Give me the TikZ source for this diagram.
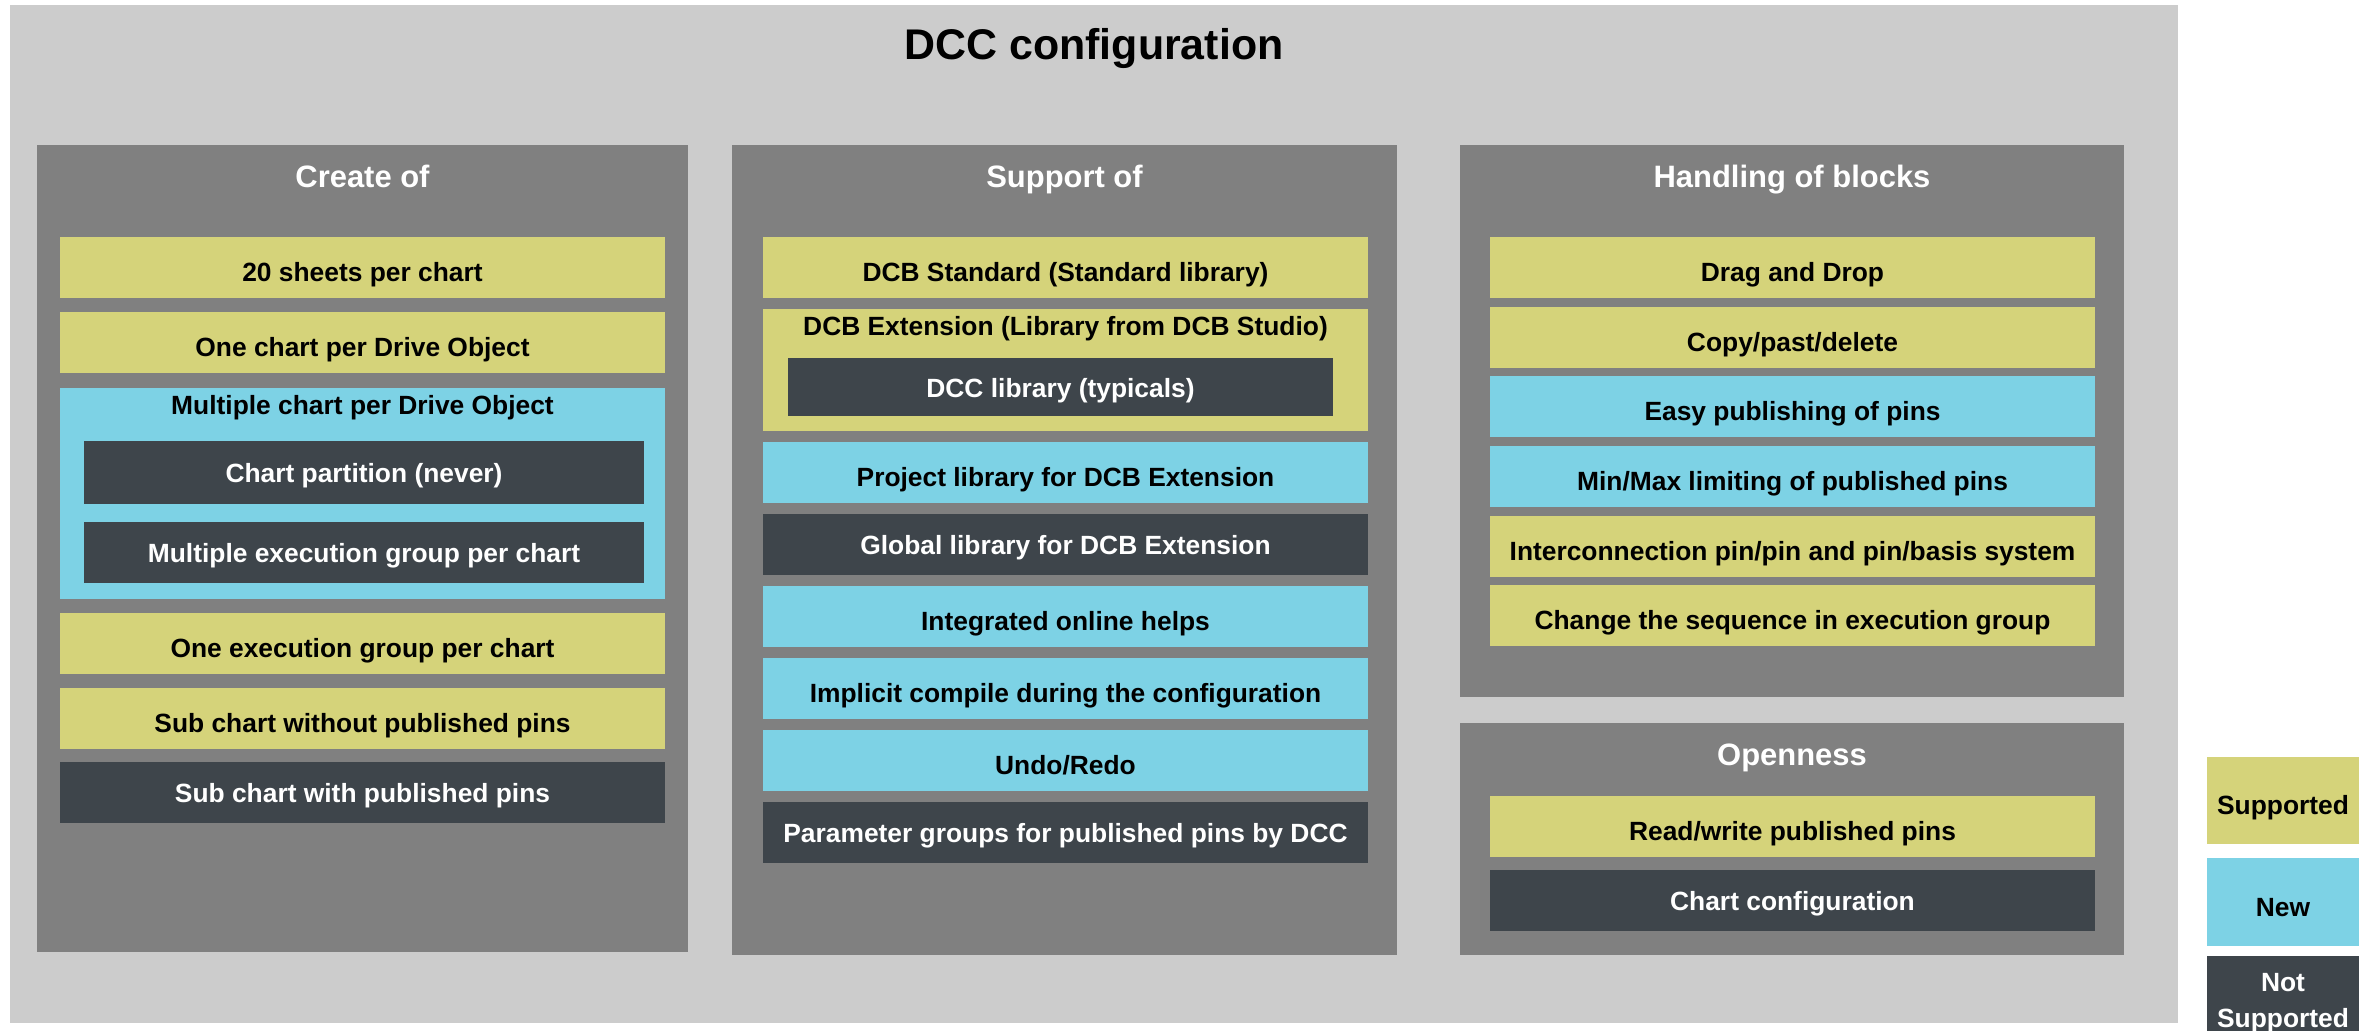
\documentclass[tikz,border=0pt]{standalone}
\usepackage{fontspec}
\setmainfont{Liberation Sans}
\usetikzlibrary{positioning}
\tikzstyle{sheet} = [x = .01cm, y = -.01cm]
\definecolor{outerColor}{RGB}{204,204,204}
\definecolor{panelColor}{RGB}{128,128,128}
\definecolor{supportedColor}{RGB}{213,211,122}
\definecolor{newColor}{RGB}{125,210,229}
\definecolor{notSupportedColor}{RGB}{62,69,75}
\tikzstyle{supportedFill} = [fill=supportedColor]
\tikzstyle{newFill} = [fill=newColor]
\tikzstyle{notSupportedFill} = [fill=notSupportedColor]
\tikzstyle{supportedText} = [text=black, yshift=-1.3pt]
\tikzstyle{newText} = [text=black, yshift=-1.3pt]
\tikzstyle{notSupportedText} = [text=white, yshift=-.2pt]
\tikzstyle{boxText} = [midway, inner sep=0pt, text height=5.4pt, text depth=0pt, font=\fontsize{7.5}{9}\selectfont\bfseries]
\tikzstyle{groupText} = [anchor=base, text=black, font=\fontsize{7.5}{9}\selectfont\bfseries]
\tikzstyle{panelText} = [anchor=base, text=white, font=\fontsize{8.8}{10}\selectfont\bfseries]
\tikzstyle{titleText} = [anchor=base, text=black, font=\fontsize{12.2}{14}\selectfont\bfseries]
\newcommand{\itemBox}[7]{\fill [#2Fill] (#3, #4) rectangle + (#5, #6) node [boxText, #2Text] (#1) {#7};}
\newcommand{\featureBox}[5]{\itemBox{#1}{#2}{#3}{#4}{605}{61}{#5}}
\newcommand{\groupBox}[5]{
  \fill [supportedFill, #2Fill] (#3, #4) rectangle + (605, #5);
}
\newcommand{\groupTitle}[4]{\node [groupText] (#1) at ({#2 + 302.5}, {#3 + 27}) {#4};}
\newcommand{\panelBox}[6]{
  \fill [panelColor] (#2, #3) rectangle (#4, #5);
  \node [panelText] (#1) at ({(#2 + #4) / 2}, {#3 + 43}) {#6};
}

\begin{document}
\begin{tikzpicture}[sheet]
      \useasboundingbox (0, 0) rectangle (2366, 1031);
      \fill [outerColor] (10, 5) rectangle (2178, 1023);
      \node [titleText] (title) at (1094, 60) {DCC configuration};

      \panelBox{createOf}{37}{145}{688}{952}{Create of}
      \featureBox{sheetsPerChart}{supported}{60}{237}{20 sheets per chart}
      \featureBox{oneChart}{supported}{60}{312}{One chart per Drive Object}
      \groupBox{multipleChart}{new}{60}{388}{211}
      \groupTitle{multipleChartTitle}{60}{388}{Multiple chart per Drive Object}
      \itemBox{chartPartition}{notSupported}{84}{441}{560}{63}{Chart partition (never)}
      \itemBox{multipleGroup}{notSupported}{84}{522}{560}{61}{Multiple execution group per chart}
      \featureBox{oneGroup}{supported}{60}{613}{One execution group per chart}
      \featureBox{subChartWithout}{supported}{60}{688}{Sub chart without published pins}
      \featureBox{subChartWith}{notSupported}{60}{762}{Sub chart with published pins}

      \panelBox{supportOf}{732}{145}{1397}{955}{Support of}
      \featureBox{dcbStandard}{supported}{763}{237}{DCB Standard (Standard library)}
      \groupBox{dcbExtension}{supported}{763}{309}{122}
      \groupTitle{dcbExtensionTitle}{763}{309}{DCB Extension (Library from DCB Studio)}
      \itemBox{dccLibrary}{notSupported}{788}{358}{545}{58}{DCC library (typicals)}
      \featureBox{projectLibrary}{new}{763}{442}{Project library for DCB Extension}
      \featureBox{globalLibrary}{notSupported}{763}{514}{Global library for DCB Extension}
      \featureBox{onlineHelps}{new}{763}{586}{Integrated online helps}
      \featureBox{implicitCompile}{new}{763}{658}{Implicit compile during the configuration}
      \featureBox{undoRedo}{new}{763}{730}{Undo/Redo}
      \featureBox{parameterGroups}{notSupported}{763}{802}{Parameter groups for published pins by DCC}

      \panelBox{handlingOfBlocks}{1460}{145}{2124}{697}{Handling of blocks}
      \featureBox{dragAndDrop}{supported}{1490}{237}{Drag and Drop}
      \featureBox{copyPastDelete}{supported}{1490}{307}{Copy/past/delete}
      \featureBox{easyPublishing}{new}{1490}{376}{Easy publishing of pins}
      \featureBox{minMaxLimiting}{new}{1490}{446}{Min/Max limiting of published pins}
      \featureBox{interconnection}{supported}{1490}{516}{Interconnection pin/pin and pin/basis system}
      \featureBox{changeSequence}{supported}{1490}{585}{Change the sequence in execution group}

      \panelBox{openness}{1460}{723}{2124}{955}{Openness}
      \featureBox{readWrite}{supported}{1490}{796}{Read/write published pins}
      \featureBox{chartConfiguration}{notSupported}{1490}{870}{Chart configuration}

      \itemBox{legendSupported}{supported}{2207}{757}{152}{87}{Supported}
      \itemBox{legendNew}{new}{2207}{858}{152}{88}{New}
      \fill [notSupportedFill] (2207, 956) rectangle + (152, 88);
      \node [groupText, text=white, align=center, anchor=north, inner sep=0pt, font=\fontsize{7.5}{10.2}\selectfont\bfseries] (legendNotSupported) at (2283, 973) {Not\\Supported};
    \end{tikzpicture}
\end{document}
